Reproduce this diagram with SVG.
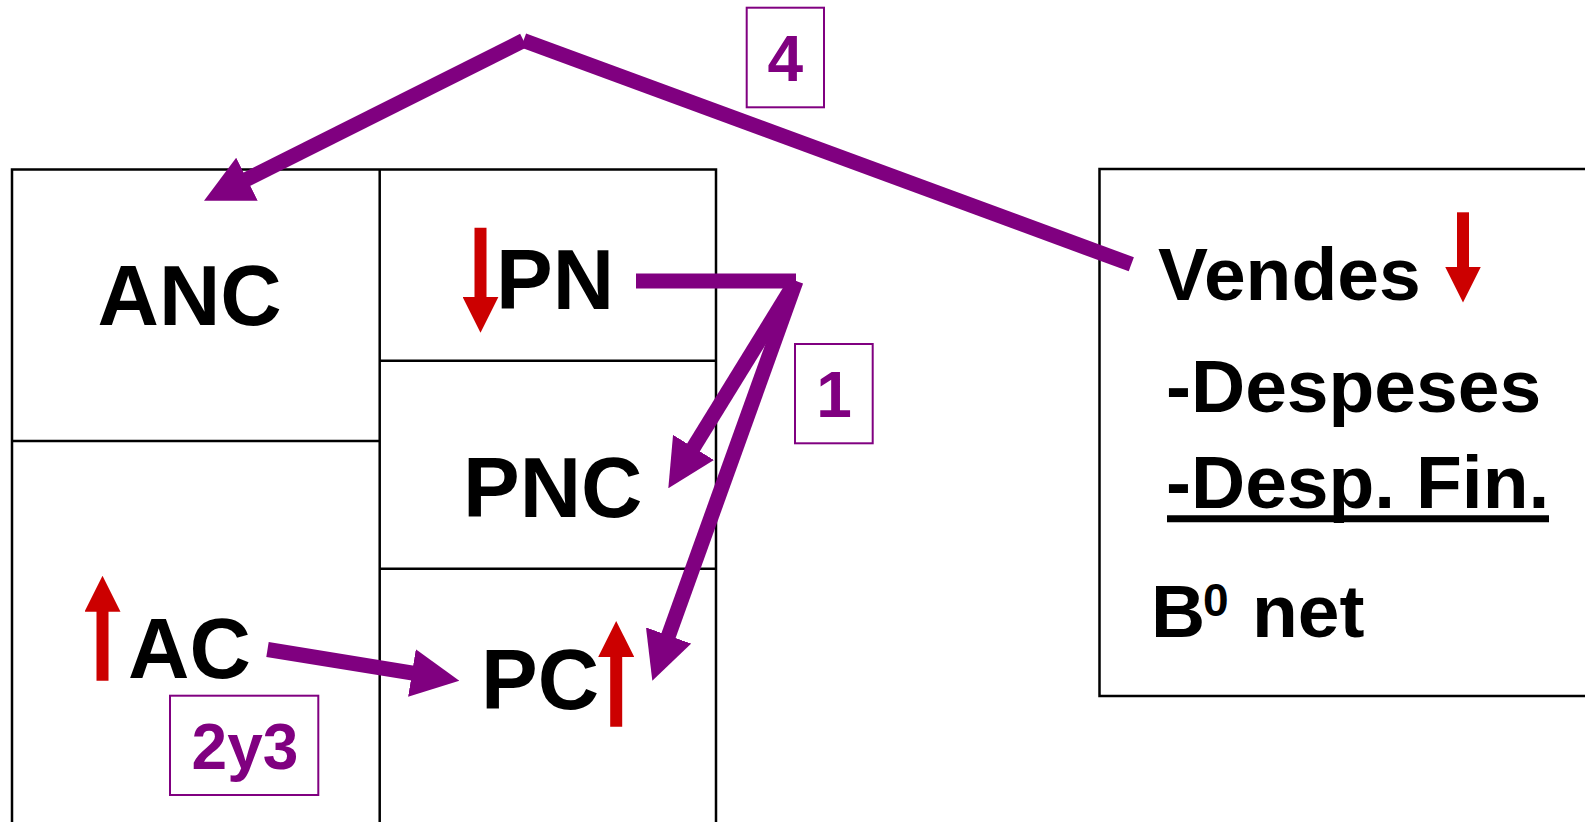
<svg xmlns="http://www.w3.org/2000/svg" width="1585" height="822" viewBox="0 0 1585 822">
<style>
  .grid{fill:none;stroke:#000;stroke-width:2.5}
  .t{font-family:"Liberation Sans",Arial,Helvetica,sans-serif;font-weight:bold;fill:#000}
  .big{font-size:85px}
  .med{font-size:75px}
  .tag rect{fill:none;stroke:#800080;stroke-width:2}
  .tag text{font-family:"Liberation Sans",Arial,Helvetica,sans-serif;font-weight:bold;font-size:64px;fill:#800080;text-anchor:middle}
  .conn{fill:none;stroke:#800080;stroke-width:15;stroke-linecap:butt}
  .red{fill:none;stroke:#CC0000;stroke-width:12;stroke-linecap:butt}
</style>
<defs>
  <marker id="ah" markerUnits="userSpaceOnUse" viewBox="0 0 48 48" markerWidth="48" markerHeight="48" refX="12" refY="24" orient="auto">
    <path d="M0,0 L48,24 L0,48 Z" fill="#800080"/>
  </marker>
  <marker id="rh" markerUnits="userSpaceOnUse" viewBox="0 0 36 36" markerWidth="36" markerHeight="36" refX="4" refY="18" orient="auto">
    <path d="M0,0 L36,18 L0,36 Z" fill="#CC0000"/>
  </marker>
</defs>
<rect width="1585" height="822" fill="#fff"/>

<g id="balance-grid">
  <path class="grid" d="M12,830 V169.5 H716 V830"/>
  <path class="grid" d="M379.7,169.5 V830"/>
  <path class="grid" d="M12,441 H379.7"/>
  <path class="grid" d="M379.7,360.7 H716"/>
  <path class="grid" d="M379.7,568.7 H716"/>
</g>

<g id="results-box">
  <path class="grid" d="M1600,169 H1099.5 V696 H1600"/>
</g>

<g id="ANC">
  <text class="t big" x="97.5" y="325">ANC</text>
</g>

<g id="AC">
  <line class="red" x1="102.5" y1="680.7" x2="102.5" y2="607.7" marker-end="url(#rh)"/>
  <text class="t big" x="128" y="678">AC</text>
</g>

<g id="PN">
  <line class="red" x1="480.5" y1="227.7" x2="480.5" y2="300.7" marker-end="url(#rh)"/>
  <text class="t big" x="496" y="309">PN</text>
</g>

<g id="PNC">
  <text class="t big" x="463" y="517">PNC</text>
</g>

<g id="PC">
  <text class="t big" x="481" y="709">PC</text>
  <line class="red" x1="616.2" y1="726.7" x2="616.2" y2="653" marker-end="url(#rh)"/>
</g>

<g id="results">
  <text class="t med" x="1158" y="300">Vendes</text>
  <line class="red" x1="1463" y1="212.3" x2="1463" y2="270.5" marker-end="url(#rh)"/>
  <text class="t med" x="1166" y="411.5">-Despeses</text>
  <text class="t med" x="1166" y="508.3">-Desp. Fin.</text>
  <line x1="1167" y1="518.7" x2="1549" y2="518.7" stroke="#000" stroke-width="7"/>
  <text class="t med" x="1151" y="636.5">B<tspan x="1203" font-size="46" dy="-21">0</tspan><tspan x="1252" dy="21">net</tspan></text>
</g>

<g id="connectors">
  <line class="conn" x1="523.5" y1="40.5" x2="236.2" y2="184.6" marker-end="url(#ah)"/>
  <line class="conn" x1="523.5" y1="40.5" x2="1131.3" y2="264.3"/>
  <line class="conn" x1="636" y1="281" x2="796" y2="281"/>
  <line class="conn" x1="796" y1="281" x2="687.2" y2="457.65" marker-end="url(#ah)"/>
  <line class="conn" x1="796" y1="281" x2="664.5" y2="646.8" marker-end="url(#ah)"/>
  <line class="conn" x1="267.5" y1="649.5" x2="423.8" y2="674.9" marker-end="url(#ah)"/>
</g>

<g id="tag-4" class="tag">
  <rect x="746.7" y="7.7" width="77.3" height="99.6"/>
  <text x="785.3" y="81">4</text>
</g>
<g id="tag-1" class="tag">
  <rect x="795" y="344" width="77.7" height="99.3"/>
  <text x="834" y="417.3">1</text>
</g>
<g id="tag-2y3" class="tag">
  <rect x="170" y="695.7" width="148.3" height="99.3"/>
  <text x="245" y="769.3">2y3</text>
</g>
</svg>
